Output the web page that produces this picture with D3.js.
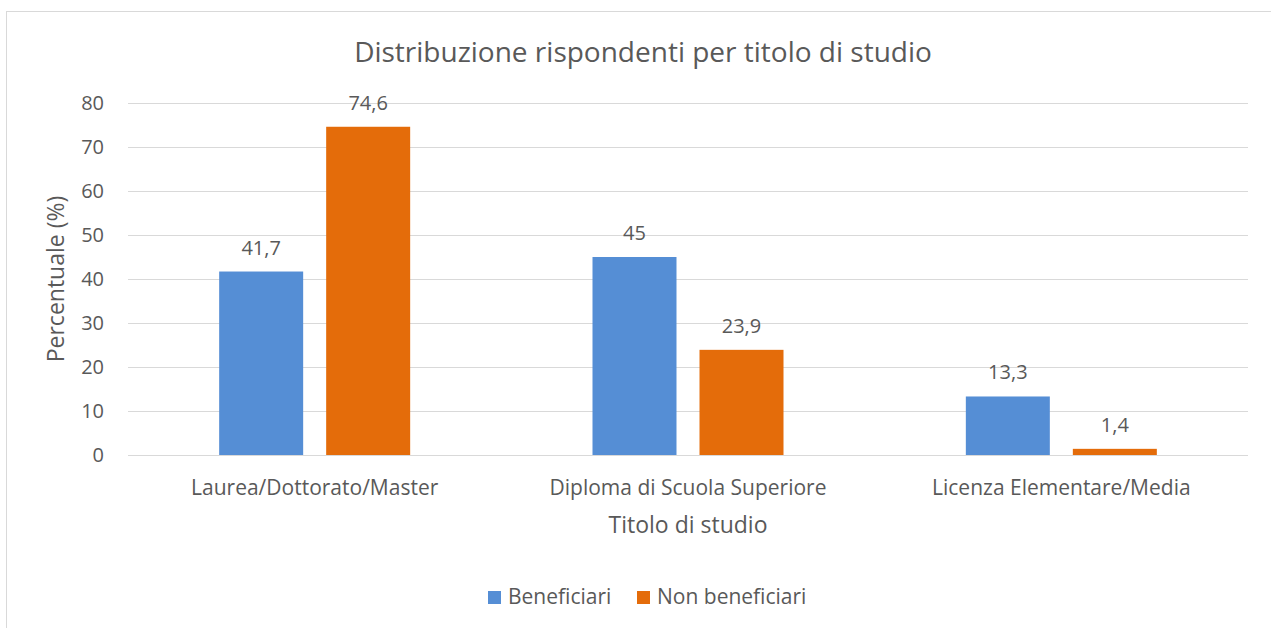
<!DOCTYPE html>
<html>
<head>
    <meta charset="utf-8">
    <title>Distribuzione rispondenti per titolo di studio</title>
    <style>
        body { margin: 0; background: white; }
        text { font-family: "Open Sans", "Noto Sans", sans-serif; fill: #595959; }
        .grid line { stroke: #d9d9d9; stroke-width: 1px; }
        .grid path { display: none; }
    </style>
    <script src="https://d3js.org/d3.v7.min.js"></script>
</head>
<body>
<svg id="chart" width="1271" height="628"></svg>
<script>
    // data
    var categories = ["Laurea/Dottorato/Master", "Diploma di Scuola Superiore", "Licenza Elementare/Media"];
    var seriesNames = ["Beneficiari", "Non beneficiari"];
    var beneficiari = [41.7, 45, 13.3];
    var nonBeneficiari = [74.6, 23.9, 1.4];
    var yTicks = [0, 10, 20, 30, 40, 50, 60, 70, 80];
    var colors = ["#558ed5", "#e46c0a"];

    var svg = d3.select("#chart");
    var margin = {top: 103, right: 23, bottom: 173, left: 128};
    var width = 1271 - margin.left - margin.right,
        height = 628 - margin.top - margin.bottom;

    // outer frame
    svg.append("rect")
        .attr("x", 6.5).attr("y", 11.5)
        .attr("width", 1290).attr("height", 640)
        .attr("fill", "none").attr("stroke", "#d9d9d9");

    var g = svg.append("g").attr("transform", "translate(" + margin.left + "," + margin.top + ")");

    var x = d3.scaleBand().domain(categories).range([0, width]);
    var x1 = d3.scaleBand().domain(seriesNames).range([0, 191]).paddingInner(0.215);
    var y = d3.scaleLinear().domain([0, 80]).range([height, 0]);

    // gridlines
    g.append("g").attr("class", "grid")
        .call(d3.axisLeft(y).tickValues(yTicks).tickSize(-width).tickFormat(""));

    // y tick labels
    g.selectAll(".ylab").data(yTicks).join("text")
        .attr("class", "ylab")
        .attr("x", -24).attr("y", d => y(d))
        .attr("dy", "0.35em")
        .attr("text-anchor", "end")
        .style("font-size", "20px")
        .text(d => d);

    var rows = categories.map((c, i) => ({cat: c, values: [beneficiari[i], nonBeneficiari[i]]}));

    var groups = g.selectAll(".cat").data(rows).join("g")
        .attr("transform", d => "translate(" + (x(d.cat) + x.bandwidth() / 2 - 95.5) + ",0)");

    groups.selectAll("rect").data(d => d.values.map((v, j) => ({name: seriesNames[j], v: v, j: j})))
        .join("rect")
        .attr("x", d => x1(d.name))
        .attr("width", x1.bandwidth())
        .attr("y", d => y(d.v))
        .attr("height", d => y(0) - y(d.v))
        .attr("fill", d => colors[d.j]);

    groups.selectAll(".val").data(d => d.values.map((v, j) => ({name: seriesNames[j], v: v, j: j})))
        .join("text")
        .attr("class", "val")
        .attr("x", d => x1(d.name) + x1.bandwidth() / 2)
        .attr("y", d => y(d.v) - 24)
        .attr("dy", "0.35em")
        .attr("text-anchor", "middle")
        .style("font-size", "20px")
        .text(d => String(d.v).replace(".", ","));

    // category labels
    g.selectAll(".xlab").data(categories).join("text")
        .attr("class", "xlab")
        .attr("x", d => x(d) + x.bandwidth() / 2)
        .attr("y", 495 - margin.top)
        .attr("text-anchor", "middle")
        .style("font-size", "21px")
        .text(d => d);

    // title
    svg.append("text")
        .attr("x", 643).attr("y", 62)
        .attr("text-anchor", "middle")
        .style("font-size", "28px")
        .text("Distribuzione rispondenti per titolo di studio");

    // axis titles
    svg.append("text")
        .attr("x", margin.left + width / 2).attr("y", 533)
        .attr("text-anchor", "middle")
        .style("font-size", "23px")
        .text("Titolo di studio");

    svg.append("text")
        .attr("transform", "translate(64," + (margin.top + height / 2) + ") rotate(-90)")
        .attr("text-anchor", "middle")
        .style("font-size", "23px")
        .text("Percentuale (%)");

    // legend
    var legend = svg.append("g");
    var lx = [488, 637];
    seriesNames.forEach(function (n, i) {
        legend.append("rect").attr("x", lx[i]).attr("y", 591).attr("width", 13).attr("height", 13).attr("fill", colors[i]);
        legend.append("text").attr("x", lx[i] + 20).attr("y", 604)
            .style("font-size", "21px").text(n);
    });
</script>
</body>
</html>
